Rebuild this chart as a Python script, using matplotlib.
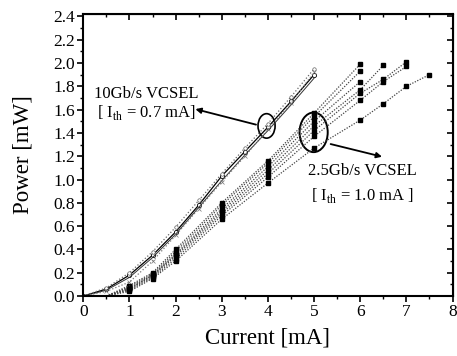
import matplotlib
matplotlib.use("Agg")
import matplotlib.pyplot as plt
from matplotlib.patches import Ellipse
from matplotlib.ticker import MultipleLocator

plt.rcParams['font.family'] = ['Liberation Serif', 'DejaVu Serif']
plt.rcParams['mathtext.fontset'] = 'custom'
plt.rcParams['mathtext.rm'] = 'Liberation Serif'

# 10 Gb/s VCSEL curves
i10 = [0, 0.5, 1, 1.5, 2, 2.5, 3, 3.5, 4, 4.5, 5]
p10_a = [0, 0.06, 0.18, 0.35, 0.55, 0.78, 1.03, 1.24, 1.45, 1.67, 1.90]
p10_b = [0, 0.07, 0.20, 0.38, 0.59, 0.82, 1.05, 1.27, 1.48, 1.71, 1.95]
p10_c = [0, 0.05, 0.16, 0.33, 0.53, 0.76, 0.99, 1.21, 1.42, 1.64, 1.87]
p10_d = [0, 0.04, 0.12, 0.30, 0.52, 0.75, 0.98, 1.20, 1.43, 1.66, 1.92]

# 2.5 Gb/s VCSEL curves (current, power)
i25_1 = [0.5, 1, 1.5, 2, 3, 4, 5, 6, 6.5, 7, 7.5]
p25_1 = [0, 0.04, 0.15, 0.30, 0.66, 0.97, 1.27, 1.51, 1.65, 1.80, 1.90]
i25_2 = [0.5, 1, 1.5, 2, 3, 4, 5, 6, 6.5, 7]
p25_2 = [0, 0.05, 0.16, 0.32, 0.69, 1.02, 1.37, 1.68, 1.84, 1.97]
i25_3 = [0.5, 1, 1.5, 2, 3, 4, 5, 6, 6.5, 7]
p25_3 = [0, 0.06, 0.17, 0.34, 0.71, 1.05, 1.42, 1.74, 1.86, 2.01]
i25_4 = [0.5, 1, 1.5, 2, 3, 4, 5, 6, 6.5]
p25_4 = [0, 0.06, 0.18, 0.35, 0.73, 1.08, 1.46, 1.77, 1.98]
i25_5 = [0.5, 1, 1.5, 2, 3, 4, 5, 6]
p25_5 = [0, 0.07, 0.18, 0.36, 0.75, 1.11, 1.50, 1.84]
i25_6 = [0.5, 1, 1.5, 2, 3, 4, 5, 6]
p25_6 = [0, 0.08, 0.19, 0.38, 0.78, 1.14, 1.54, 1.93]
i25_7 = [0.5, 1, 1.5, 2, 3, 4, 5, 6]
p25_7 = [0, 0.09, 0.20, 0.40, 0.80, 1.16, 1.57, 1.99]

fig = plt.figure(figsize=(4.57, 3.56), dpi=100)
ax = fig.add_axes([0.1823, 0.1685, 0.808, 0.792])

ax.plot(i10, p10_a, '-', color='black', lw=0.9, marker='o', ms=3, mfc='white', mec='black', mew=0.6)
ax.plot(i10, p10_b, ':', color='#666666', lw=0.9, marker='o', ms=2.5, mfc='white', mec='#666666', mew=0.5)
ax.plot(i10, p10_c, '-', color='#333333', lw=0.7)
ax.plot(i10, p10_d, ':', color='#777777', lw=0.9, marker='x', ms=2.5, mec='#777777', mew=0.5)

series25 = [(i25_1, p25_1), (i25_2, p25_2), (i25_3, p25_3), (i25_4, p25_4),
            (i25_5, p25_5), (i25_6, p25_6), (i25_7, p25_7)]
for k, (xi, yi) in enumerate(series25):
    ax.plot(xi[1:], yi[1:], linestyle=(0, (1, 1.2)), color='#444444', lw=0.9,
            marker='s', ms=2.3, mfc='black', mec='black')
    ax.plot(xi[:2], yi[:2], linestyle=(0, (1, 1.2)), color='#444444', lw=0.9)

ax.set_xlim(0, 8)
ax.set_ylim(0, 2.42)
ax.xaxis.set_major_locator(MultipleLocator(1))
ax.xaxis.set_minor_locator(MultipleLocator(0.5))
ax.yaxis.set_major_locator(MultipleLocator(0.2))
ax.yaxis.set_minor_locator(MultipleLocator(0.1))
ax.yaxis.set_major_formatter(matplotlib.ticker.FormatStrFormatter('%.1f'))
ax.tick_params(which='major', direction='out', length=4, width=1.2, labelsize=12.5, pad=2)
ax.tick_params(which='minor', direction='out', length=2.5, width=1.0)

ax2 = ax.secondary_xaxis('top')
ax2.xaxis.set_major_locator(MultipleLocator(1))
ax2.xaxis.set_minor_locator(MultipleLocator(0.5))
ax2.tick_params(which='major', direction='in', length=4, width=1.2, labeltop=False)
ax2.tick_params(which='minor', direction='in', length=2.5, width=1.0)
ay2 = ax.secondary_yaxis('right')
ay2.yaxis.set_major_locator(MultipleLocator(0.2))
ay2.yaxis.set_minor_locator(MultipleLocator(0.1))
ay2.tick_params(which='major', direction='in', length=4, width=1.2, labelright=False)
ay2.tick_params(which='minor', direction='in', length=2.5, width=1.0)

for s in ax.spines.values():
    s.set_linewidth(1.5)

ax.set_xlabel('Current [mA]', fontsize=16.5, labelpad=5)
ax.set_ylabel('Power [mW]', fontsize=16.5, labelpad=14)

ax.add_patch(Ellipse((3.97, 1.46), 0.37, 0.21, fill=False, lw=1.2, color='black'))
ax.add_patch(Ellipse((4.99, 1.405), 0.61, 0.34, fill=False, lw=1.4, color='black'))

ax.annotate('', xy=(2.37, 1.61), xytext=(3.80, 1.465),
            arrowprops=dict(arrowstyle='-|>', color='black', lw=1.3, mutation_scale=8))
ax.annotate('', xy=(6.53, 1.19), xytext=(5.30, 1.31),
            arrowprops=dict(arrowstyle='-|>', color='black', lw=1.3, mutation_scale=8))

ax.text(1.36, 1.735, '10Gb/s VCSEL', fontsize=12, ha='center', va='center')
ax.text(1.36, 1.575, r'[ I$_{\mathrm{th}}$ = 0.7 mA]', fontsize=12, ha='center', va='center')
ax.text(6.04, 1.07, '2.5Gb/s VCSEL', fontsize=12, ha='center', va='center')
ax.text(6.04, 0.865, r'[ I$_{\mathrm{th}}$ = 1.0 mA ]', fontsize=12, ha='center', va='center')

fig.savefig('out.png', dpi=100)
